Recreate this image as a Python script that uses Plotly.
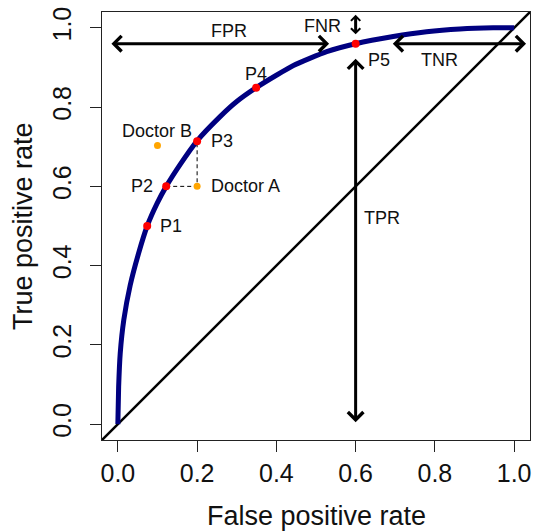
import plotly.graph_objects as go

# ---- data ----
curve_fpr = [0.0, 0.002, 0.006, 0.015, 0.031, 0.052, 0.074, 0.099, 0.122, 0.157, 0.2,
             0.258, 0.3, 0.349, 0.401, 0.443, 0.527, 0.6, 0.695, 0.779, 0.863, 0.947, 1.0]
curve_tpr = [0.0, 0.094, 0.179, 0.263, 0.35, 0.43, 0.5, 0.557, 0.6, 0.655, 0.715,
             0.776, 0.814, 0.849, 0.881, 0.905, 0.94, 0.96, 0.978, 0.99, 0.997, 1.0, 1.0]

point_labels = ["P1", "P2", "P3", "P4", "P5"]
point_fpr = [0.074, 0.122, 0.2, 0.349, 0.6]
point_tpr = [0.5, 0.6, 0.714, 0.849, 0.96]

doctor_labels = ["Doctor A", "Doctor B"]
doctor_fpr = [0.2, 0.1]
doctor_tpr = [0.6, 0.703]

tick_vals = [0.0, 0.2, 0.4, 0.6, 0.8, 1.0]
tick_text = ["0.0", "0.2", "0.4", "0.6", "0.8", "1.0"]

arrow_names = ["FPR", "TNR", "FNR", "TPR"]
arrow_x0 = [-0.02, 0.69, 0.6, 0.6]
arrow_y0 = [0.96, 0.96, 0.98, 0.926]
arrow_x1 = [0.533, 1.03, 0.6, 0.6]
arrow_y1 = [0.96, 0.96, 1.033, 0.005]
arrow_head_size = [1.0, 1.0, 0.6, 1.0]
arrow_label_x = [0.281, 0.811, 0.516, 0.667]
arrow_label_y = [0.992, 0.919, 1.005, 0.519]

axis_range = [-0.04, 1.04]
FONT = "Arial, Liberation Sans, sans-serif"
TXT = "#111111"

fig = go.Figure()

# chance diagonal (abline y = x across the whole plot region)
fig.add_trace(go.Scatter(x=axis_range, y=axis_range, mode="lines",
                         line=dict(color="black", width=2.5), hoverinfo="skip"))

# ROC curve
fig.add_trace(go.Scatter(x=curve_fpr, y=curve_tpr, mode="lines",
                         line=dict(color="#000080", width=5, shape="spline", smoothing=0.5),
                         hoverinfo="skip"))

# dashed guide lines P2 -> Doctor A -> P3
fig.add_trace(go.Scatter(x=[point_fpr[1], doctor_fpr[0], point_fpr[2]],
                         y=[point_tpr[1], doctor_tpr[0], point_tpr[2]],
                         mode="lines", line=dict(color="black", width=1, dash="4px,3px"),
                         hoverinfo="skip"))

# doctors
fig.add_trace(go.Scatter(x=doctor_fpr, y=doctor_tpr, mode="markers",
                         marker=dict(color="#FFA500", size=7), hoverinfo="skip"))
# red points
fig.add_trace(go.Scatter(x=point_fpr, y=point_tpr, mode="markers",
                         marker=dict(color="#FF0000", size=8), hoverinfo="skip"))

annotations = []
# arrows (double headed)
for x0, y0, x1, y1, hs in zip(arrow_x0, arrow_y0, arrow_x1, arrow_y1, arrow_head_size):
    annotations.append(dict(x=x1, y=y1, ax=x0, ay=y0, xref="x", yref="y",
                            axref="x", ayref="y", text="", showarrow=True,
                            arrowhead=4, startarrowhead=4, arrowside="end+start",
                            arrowwidth=3, arrowsize=hs, startarrowsize=hs,
                            arrowcolor="black", standoff=0, startstandoff=0))
for name, x, y in zip(arrow_names, arrow_label_x, arrow_label_y):
    annotations.append(dict(x=x, y=y, xref="x", yref="y", text=name, showarrow=False,
                            font=dict(family=FONT, size=18, color=TXT)))

# point labels
p_anchor = ["left", "right", "left", "center", "left"]
p_xshift = [11, -11, 12, 0, 10]
p_yshift = [0, 0, 0, 14, -16]
for lab, x, y, xa, xs, ys in zip(point_labels, point_fpr, point_tpr, p_anchor, p_xshift, p_yshift):
    annotations.append(dict(x=x, y=y, xref="x", yref="y", text=lab, showarrow=False,
                            xanchor=xa, yanchor="middle", xshift=xs, yshift=ys,
                            font=dict(family=FONT, size=18, color=TXT)))
d_anchor = ["left", "center"]
d_xshift = [12, 0]
d_yshift = [0, 15]
for lab, x, y, xa, xs, ys in zip(doctor_labels, doctor_fpr, doctor_tpr, d_anchor, d_xshift, d_yshift):
    annotations.append(dict(x=x, y=y, xref="x", yref="y", text=lab, showarrow=False,
                            xanchor=xa, yanchor="middle", xshift=xs, yshift=ys,
                            font=dict(family=FONT, size=18, color=TXT)))

# axis titles
annotations.append(dict(x=0.5, y=0, xref="paper", yref="paper", text="False positive rate",
                        showarrow=False, xanchor="center", yanchor="middle", yshift=-76,
                        font=dict(family=FONT, size=27, color=TXT)))
annotations.append(dict(x=0, y=0.5, xref="paper", yref="paper", text="True positive rate",
                        showarrow=False, xanchor="center", yanchor="middle", xshift=-79,
                        textangle=-90, font=dict(family=FONT, size=27, color=TXT)))

axis_common = dict(range=axis_range, tickvals=tick_vals, ticktext=tick_text,
                   ticks="outside", ticklen=11, tickwidth=1, tickcolor="#222222",
                   showline=True, linecolor="#222222", linewidth=1, mirror=True,
                   showgrid=False, zeroline=False,
                   tickfont=dict(family=FONT, size=25, color=TXT))

fig.update_layout(
    width=534, height=531,
    margin=dict(l=102, r=3.5, t=12, b=91),
    paper_bgcolor="white", plot_bgcolor="white",
    showlegend=False,
    xaxis=dict(**axis_common, ticklabelstandoff=0),
    yaxis=dict(**axis_common, tickangle=-90, ticklabelstandoff=9),
    annotations=annotations,
)

fig.write_html("out.html", config={"displayModeBar": False},
               post_script="document.body.style.margin='0';")
